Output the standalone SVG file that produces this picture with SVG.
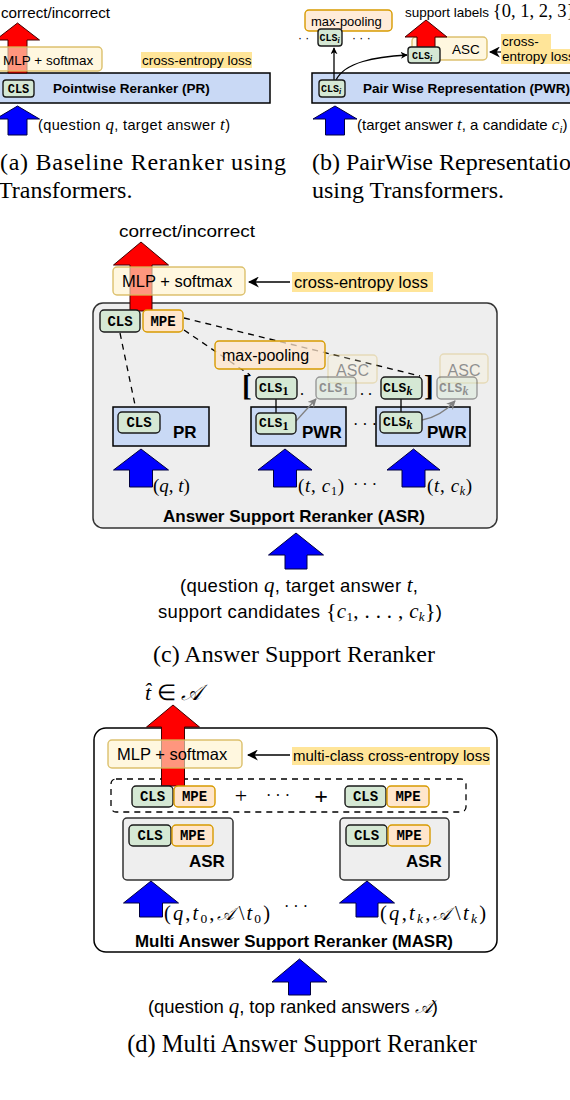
<svg xmlns="http://www.w3.org/2000/svg" width="570" height="1100" viewBox="0 0 570 1100">
<defs>
<style>
.sans{font-family:"Liberation Sans",Arial,sans-serif;fill:#000}
.b{font-weight:bold}
.mono{font-family:"Liberation Mono","Courier New",monospace;font-weight:bold;fill:#000}
.serif{font-family:"Liberation Serif","Times New Roman",serif;fill:#000}
.it{font-style:italic}
.cal{font-family:"DejaVu Serif",serif;font-style:italic}
.blue{fill:#0000ff;stroke:#000040;stroke-width:1}
.red{fill:#ff0000;stroke:#400000;stroke-width:1}
.pbox{fill:#c9d9f5;stroke:#000;stroke-width:1.5}
.cls{fill:#d5e8d4;stroke:#1a1a1a;stroke-width:1.4}
.mpe{fill:#ffe6cc;stroke:#d79b00;stroke-width:1.4}
.mlp{fill:#fff2cc;fill-opacity:0.62;stroke:#d6b656;stroke-opacity:0.85;stroke-width:1.4}
.pool{fill:#ffe6cc;fill-opacity:0.75;stroke:#d79b00;stroke-width:1.4}
.hl{fill:#ffe599}
.grey{fill:#eeeeee;stroke:#333;stroke-width:1.5}
.dash{fill:none;stroke:#000;stroke-width:1.3;stroke-dasharray:6 5}
.line{fill:none;stroke:#000;stroke-width:1.3}
.gline{fill:none;stroke:#808080;stroke-width:1.3}
.faded{opacity:0.4}
</style>
<marker id="ah" viewBox="0 0 10 10" refX="9" refY="5" markerWidth="7" markerHeight="7" orient="auto" markerUnits="userSpaceOnUse">
<path d="M0,0 L10,5 L0,10 L3,5 Z" fill="#000"/>
</marker>
<marker id="ahg" viewBox="0 0 10 10" refX="9" refY="5" markerWidth="9" markerHeight="9" orient="auto" markerUnits="userSpaceOnUse">
<path d="M0,0 L10,5 L0,10 L3,5 Z" fill="#808080"/>
</marker>
<marker id="ahb" viewBox="0 0 10 10" refX="9" refY="5" markerWidth="11" markerHeight="11" orient="auto" markerUnits="userSpaceOnUse">
<path d="M0,0 L10,5 L0,10 L3,5 Z" fill="#000"/>
</marker>
</defs>
<rect x="0" y="0" width="570" height="1100" fill="#fff"/>

<!-- ================= Panel (a) ================= -->
<g id="a-output"><text class="sans" x="1" y="18" font-size="14" textLength="109" lengthAdjust="spacingAndGlyphs">correct/incorrect</text></g>
<g id="a-pr"><rect class="pbox" x="-5" y="73" width="275" height="30"/>
<text class="sans b" x="53" y="93" font-size="13.5">Pointwise Reranker (PR)</text></g>
<g id="a-red-arrow"><path class="red" d="M17.5,23 L39.5,40 L27,40 L27,73 L8,73 L8,40 L-4.5,40 Z"/></g>
<g id="a-mlp"><rect class="mlp" x="-6" y="47" width="108" height="24" rx="4"/>
<text class="sans" x="3" y="64.5" font-size="13.5">MLP + softmax</text></g>
<g id="a-loss"><rect class="hl" x="141" y="52" width="111" height="16"/>
<text class="sans" x="142" y="65" font-size="13.5">cross-entropy loss</text></g>
<g id="a-cls"><rect class="cls" x="3" y="80" width="31" height="17" rx="3"/>
<text class="mono" x="18.5" y="92.5" font-size="12" text-anchor="middle">CLS</text></g>
<g id="a-input"><path class="blue" d="M17.5,106 L39.5,119 L27,119 L27,135 L8,135 L8,119 L-4.5,119 Z"/>
<text class="sans" x="38" y="130" font-size="14.5" textLength="192" lengthAdjust="spacing">(question <tspan class="serif it" font-size="17">q</tspan>, target answer <tspan class="serif it" font-size="17">t</tspan>)</text></g>
<g id="a-caption">
<text class="serif" x="0" y="170" font-size="24" textLength="286" lengthAdjust="spacing">(a) Baseline Reranker using</text>
<text class="serif" x="-2" y="198" font-size="24">Transformers.</text></g>

<!-- ================= Panel (b) ================= -->
<g id="b-output"><text class="sans" x="405" y="17" font-size="13.5">support labels <tspan class="serif" font-size="18.5">{0, 1, 2, 3}</tspan></text></g>
<g id="b-pwr"><rect class="pbox" x="312" y="73" width="270" height="30"/>
<text class="sans b" x="363" y="93" font-size="13.5">Pair Wise Representation (PWR)</text></g>
<g id="b-asc"><rect class="mlp" x="412" y="37" width="75" height="23" rx="4"/>
<text class="sans" x="452" y="54" font-size="13.5">ASC</text></g>
<g id="b-red-arrow"><path class="red" d="M426,20 L447,37 L435,37 L435,49 L417,49 L417,37 L405,37 Z"/></g>
<g id="b-loss"><rect class="hl" x="501" y="34" width="50" height="15"/><rect class="hl" x="501" y="49" width="75" height="15"/>
<text class="sans" x="502" y="46" font-size="13.5">cross-</text>
<text class="sans" x="502" y="61" font-size="13.5">entropy loss</text></g>
<g id="b-pool"><rect class="pool" x="305" y="10" width="87" height="21" rx="4"/>
<text class="sans" x="311" y="26" font-size="13">max-pooling</text></g>

<g id="b-connectors">
<path class="line" d="M334,80 L334,48" marker-end="url(#ah)"/>
<path class="line" d="M336,80 C345,62 375,57 407,55" marker-end="url(#ah)"/>
<path class="line" d="M501,52 L490,52" marker-end="url(#ahb)"/>
</g>

<g id="b-cls-pool"><rect class="cls" x="318" y="29" width="24" height="17" rx="3"/>
<text class="mono" x="319.5" y="41" font-size="10">CLS<tspan class="serif it" font-size="8" dy="2">i</tspan></text>
<text class="sans" x="298" y="42" font-size="12">· ·</text>
<text class="sans" x="352" y="42" font-size="12">· · ·</text></g>
<g id="b-cls-asc"><rect class="cls" x="408" y="47" width="32" height="16" rx="3"/>
<text class="mono" x="412" y="59" font-size="10">CLS<tspan class="serif it" font-size="8" dy="2">i</tspan></text></g>
<g id="b-cls-pwr"><rect class="cls" x="319" y="80" width="26" height="17" rx="3"/>
<text class="mono" x="321" y="92" font-size="10">CLS<tspan class="serif it" font-size="8" dy="2">i</tspan></text></g>
<g id="b-input"><path class="blue" d="M335,106 L357,119 L344.5,119 L344.5,135 L325.5,135 L325.5,119 L313,119 Z"/>
<text class="sans" x="357" y="130" font-size="15">(target answer <tspan class="serif it" font-size="17">t</tspan>, a candidate <tspan class="serif it" font-size="17">c</tspan><tspan class="serif it" font-size="11" dy="3">i</tspan><tspan dy="-3">)</tspan></text></g>
<g id="b-caption">
<text class="serif" x="312" y="170" font-size="24">(b) PairWise Representation</text>
<text class="serif" x="312" y="198" font-size="24">using Transformers.</text></g>

<!-- ================= Panel (c) ================= -->
<g id="c-asr"><rect class="grey" x="93" y="303" width="404" height="225" rx="10"/>
<text class="sans b" x="163" y="522" font-size="17" textLength="262" lengthAdjust="spacingAndGlyphs">Answer Support Reranker (ASR)</text></g>
<g id="c-pr"><rect class="pbox" x="113" y="407" width="96" height="39"/>
<text class="sans b" x="173" y="438" font-size="17">PR</text></g>
<g id="c-pwr1"><rect class="pbox" x="251" y="407" width="95" height="39"/>
<text class="sans b" x="302" y="438" font-size="17">PWR</text></g>
<g id="c-pwrk"><rect class="pbox" x="376" y="407" width="94" height="39"/>
<text class="sans b" x="427" y="438" font-size="17">PWR</text></g>

<g id="c-connectors">
<path class="dash" d="M120,333 L135,405"/>
<path class="dash" d="M184,318 L420,376"/>
<path class="dash" d="M184,330 L250,375"/>
<path class="line" d="M276,399 L276,413"/>
<path class="line" d="M401,399 L401,412"/>
<path class="gline" d="M296,421 L316,399" marker-end="url(#ahg)"/>
<path class="gline" d="M422,420 Q440,417 455,401" marker-end="url(#ahg)"/>
<path class="line" d="M290,282 L249,282" marker-end="url(#ahb)"/>
</g>

<g id="c-output"><text class="sans" x="119" y="237" font-size="17" textLength="136" lengthAdjust="spacingAndGlyphs">correct/incorrect</text></g>
<g id="c-red-arrow"><path class="red" d="M141,242 L168.5,265 L152,265 L152,311 L130,311 L130,265 L113.5,265 Z"/></g>
<g id="c-mlp"><rect class="mlp" x="113" y="267" width="132" height="28" rx="4"/>
<text class="sans" x="122" y="287" font-size="16.5">MLP + softmax</text></g>
<g id="c-loss"><rect class="hl" x="292" y="272" width="141" height="20"/>
<text class="sans" x="294" y="288" font-size="16.5">cross-entropy loss</text></g>
<g id="c-cls"><rect class="cls" x="100" y="310" width="40" height="22" rx="4"/>
<text class="mono" x="120" y="326" font-size="14" text-anchor="middle">CLS</text></g>
<g id="c-mpe"><rect class="mpe" x="143" y="310" width="40" height="22" rx="4"/>
<text class="mono" x="163" y="326" font-size="14" text-anchor="middle">MPE</text></g>
<g id="c-pool"><rect class="pool" x="215" y="341" width="110" height="28" rx="4"/>
<text class="sans" x="222" y="361" font-size="16">max-pooling</text></g>
<g id="c-asc1" class="faded"><rect class="mlp" x="328" y="355" width="49" height="28" rx="4"/>
<text class="sans" x="352.5" y="376" font-size="16" text-anchor="middle" fill="#555">ASC</text></g>
<g id="c-asck" class="faded"><rect class="mlp" x="440" y="354" width="48" height="29" rx="4"/>
<text class="sans" x="464" y="376" font-size="16" text-anchor="middle" fill="#555">ASC</text></g>
<g id="c-brackets">
<text class="serif b" x="242" y="396" font-size="29">[</text>
<text class="serif" x="300" y="395" font-size="16">.</text>
<text class="serif" x="360" y="395" font-size="16">. .</text>
<text class="serif b" x="424" y="396" font-size="29">]</text></g>
<g id="c-cls1-top"><rect class="cls" x="256" y="377" width="41" height="22" rx="4"/>
<text class="mono" x="259" y="392" font-size="13">CLS<tspan class="serif" font-size="12" dy="3">1</tspan></text></g>
<g id="c-cls1-faded" class="faded"><rect class="cls" x="316" y="377" width="40" height="22" rx="4"/>
<text class="mono" x="319" y="392" font-size="13">CLS<tspan class="serif" font-size="12" dy="3">1</tspan></text></g>
<g id="c-clsk-top"><rect class="cls" x="381" y="377" width="41" height="22" rx="4"/>
<text class="mono" x="383" y="392" font-size="13">CLS<tspan class="serif it" font-size="12" dy="3">k</tspan></text></g>
<g id="c-clsk-faded" class="faded"><rect class="cls" x="437" y="377" width="40" height="22" rx="4"/>
<text class="mono" x="439" y="392" font-size="13">CLS<tspan class="serif it" font-size="12" dy="3">k</tspan></text></g>
<g id="c-pr-cls"><rect class="cls" x="118" y="412" width="42" height="21" rx="4"/>
<text class="mono" x="139" y="427" font-size="14" text-anchor="middle">CLS</text></g>
<g id="c-cls1-low"><rect class="cls" x="256" y="413" width="40" height="21" rx="4"/>
<text class="mono" x="259" y="427" font-size="13">CLS<tspan class="serif" font-size="12" dy="3">1</tspan></text></g>
<g id="c-clsk-low"><rect class="cls" x="380" y="412" width="42" height="21" rx="4"/>
<text class="mono" x="383" y="426" font-size="13">CLS<tspan class="serif it" font-size="12" dy="3">k</tspan></text></g>
<g id="c-dots"><text class="serif" x="353" y="430" font-size="16">· · ·</text></g>

<g id="c-in-pr"><path class="blue" d="M141,449 L168.5,470 L152.5,470 L152.5,487 L129.5,487 L129.5,470 L113.5,470 Z"/>
<text class="serif" x="153" y="492" font-size="19">(<tspan class="it">q</tspan>, <tspan class="it">t</tspan>)</text></g>
<g id="c-in-pwr1"><path class="blue" d="M285,449 L312,470 L296.5,470 L296.5,487 L273.5,487 L273.5,470 L258,470 Z"/>
<text class="serif" x="298" y="492" font-size="19" textLength="46" lengthAdjust="spacing">(<tspan class="it">t</tspan>, <tspan class="it">c</tspan><tspan font-size="12" dy="3">1</tspan><tspan dy="-3">)</tspan></text>
<text class="serif" x="353" y="490" font-size="16">· · ·</text></g>
<g id="c-in-pwrk"><path class="blue" d="M413.5,449 L440,470 L425,470 L425,487 L402,487 L402,470 L387,470 Z"/>
<text class="serif" x="427" y="492" font-size="19" textLength="45" lengthAdjust="spacing">(<tspan class="it">t</tspan>, <tspan class="it">c</tspan><tspan class="it" font-size="12" dy="3">k</tspan><tspan dy="-3">)</tspan></text></g>
<g id="c-input"><path class="blue" d="M296,533 L323.5,555 L307,555 L307,569 L285,569 L285,555 L268.5,555 Z"/>
<text class="sans" x="180" y="592" font-size="18.5" textLength="238" lengthAdjust="spacing">(question <tspan class="serif it" font-size="21">q</tspan>, target answer <tspan class="serif it" font-size="21">t</tspan>,</text>
<text class="sans" x="158" y="618" font-size="18.5" textLength="284" lengthAdjust="spacing">support candidates <tspan class="serif" font-size="22">{</tspan><tspan class="serif it" font-size="21">c</tspan><tspan class="serif" font-size="13" dy="3">1</tspan><tspan class="serif" font-size="21" dy="-3">, . . . , </tspan><tspan class="serif it" font-size="21">c</tspan><tspan class="serif it" font-size="13" dy="3">k</tspan><tspan class="serif" font-size="22" dy="-3">}</tspan>)</text></g>
<g id="c-caption"><text class="serif" x="294" y="662" font-size="24" text-anchor="middle">(c) Answer Support Reranker</text></g>

<!-- ================= Panel (d) ================= -->
<g id="d-masr"><rect x="94" y="728" width="403" height="224" rx="12" fill="#fff" stroke="#000" stroke-width="1.5"/>
<text class="sans b" x="135" y="947" font-size="17" textLength="318" lengthAdjust="spacingAndGlyphs">Multi Answer Support Reranker (MASR)</text></g>
<g id="d-concat"><rect class="dash" x="111" y="779" width="355" height="33" rx="5"/></g>
<g id="d-asr1"><rect class="grey" x="123" y="818" width="110" height="62" rx="4"/>
<text class="sans b" x="189" y="867" font-size="17">ASR</text></g>
<g id="d-asr2"><rect class="grey" x="340" y="818" width="109" height="62" rx="4"/>
<text class="sans b" x="406" y="867" font-size="17">ASR</text></g>

<g id="d-connectors">
<path class="line" d="M290,755 L248,755" marker-end="url(#ahb)"/>
</g>

<g id="d-output"><text class="serif" x="145" y="700" font-size="22"><tspan class="it">t̂</tspan> ∈ <tspan class="cal">𝒜</tspan></text></g>
<g id="d-red-arrow"><path class="red" d="M173,705 L199.5,727 L184.5,727 L184.5,786 L161.5,786 L161.5,727 L146.5,727 Z"/></g>
<g id="d-mlp"><rect class="mlp" x="108" y="740" width="134" height="28" rx="4"/>
<text class="sans" x="117" y="760" font-size="16.5">MLP + softmax</text></g>
<g id="d-loss"><rect class="hl" x="292" y="747" width="198" height="18"/>
<text class="sans" x="293" y="761" font-size="15">multi-class cross-entropy loss</text></g>
<g id="d-cls1"><rect class="cls" x="132" y="786" width="41" height="21" rx="4"/>
<text class="mono" x="152.5" y="801" font-size="14" text-anchor="middle">CLS</text></g>
<g id="d-mpe1"><rect class="mpe" x="174" y="786" width="41" height="21" rx="4"/>
<text class="mono" x="194.5" y="801" font-size="14" text-anchor="middle">MPE</text></g>
<g id="d-plus">
<text class="serif" x="241" y="803" font-size="22" text-anchor="middle">+</text>
<text class="serif" x="278" y="801" font-size="16" text-anchor="middle">· · ·</text>
<text class="serif b" x="321" y="804" font-size="24" text-anchor="middle">+</text></g>
<g id="d-cls2"><rect class="cls" x="345" y="786" width="41" height="21" rx="4"/>
<text class="mono" x="365.5" y="801" font-size="14" text-anchor="middle">CLS</text></g>
<g id="d-mpe2"><rect class="mpe" x="387" y="786" width="42" height="21" rx="4"/>
<text class="mono" x="408" y="801" font-size="14" text-anchor="middle">MPE</text></g>
<g id="d-asr1-cls"><rect class="cls" x="129" y="825" width="42" height="21" rx="4"/>
<text class="mono" x="150" y="840" font-size="14" text-anchor="middle">CLS</text>
<rect class="mpe" x="172" y="825" width="41" height="21" rx="4"/>
<text class="mono" x="192.5" y="840" font-size="14" text-anchor="middle">MPE</text></g>
<g id="d-asr2-cls"><rect class="cls" x="346" y="825" width="41" height="21" rx="4"/>
<text class="mono" x="366.5" y="840" font-size="14" text-anchor="middle">CLS</text>
<rect class="mpe" x="388" y="825" width="42" height="21" rx="4"/>
<text class="mono" x="409" y="840" font-size="14" text-anchor="middle">MPE</text></g>
<g id="d-in1"><path class="blue" d="M151,881 L178.5,903 L162.5,903 L162.5,917 L139.5,917 L139.5,903 L123.5,903 Z"/>
<text class="serif" x="164" y="920" font-size="20.5" textLength="106" lengthAdjust="spacing">(<tspan class="it">q</tspan>,<tspan class="it">t</tspan><tspan font-size="13.5" dy="3">0</tspan><tspan dy="-3">,</tspan><tspan class="cal" font-size="18">𝒜</tspan><tspan dx="3">\</tspan><tspan class="it">t</tspan><tspan font-size="13.5" dy="3">0</tspan><tspan dy="-3">)</tspan></text>
<text class="serif" x="284" y="912" font-size="16">· · ·</text></g>
<g id="d-in2"><path class="blue" d="M367,881 L394.5,903 L378,903 L378,917 L356,917 L356,903 L339.5,903 Z"/>
<text class="serif" x="380" y="920" font-size="20.5" textLength="106" lengthAdjust="spacing">(<tspan class="it">q</tspan>,<tspan class="it">t</tspan><tspan class="it" font-size="13.5" dy="3">k</tspan><tspan dy="-3">,</tspan><tspan class="cal" font-size="18">𝒜</tspan><tspan dx="3">\</tspan><tspan class="it">t</tspan><tspan class="it" font-size="13.5" dy="3">k</tspan><tspan dy="-3">)</tspan></text></g>
<g id="d-input"><path class="blue" d="M299.5,959 L327,982 L310.5,982 L310.5,995 L288.5,995 L288.5,982 L272,982 Z"/>
<text class="sans" x="148" y="1013" font-size="18.5" textLength="290" lengthAdjust="spacing">(question <tspan class="serif it" font-size="21">q</tspan>, top ranked answers <tspan class="cal" font-size="18">𝒜</tspan>)</text></g>
<g id="d-caption"><text class="serif" x="302" y="1052" font-size="24.5" text-anchor="middle">(d) Multi Answer Support Reranker</text></g>
</svg>
